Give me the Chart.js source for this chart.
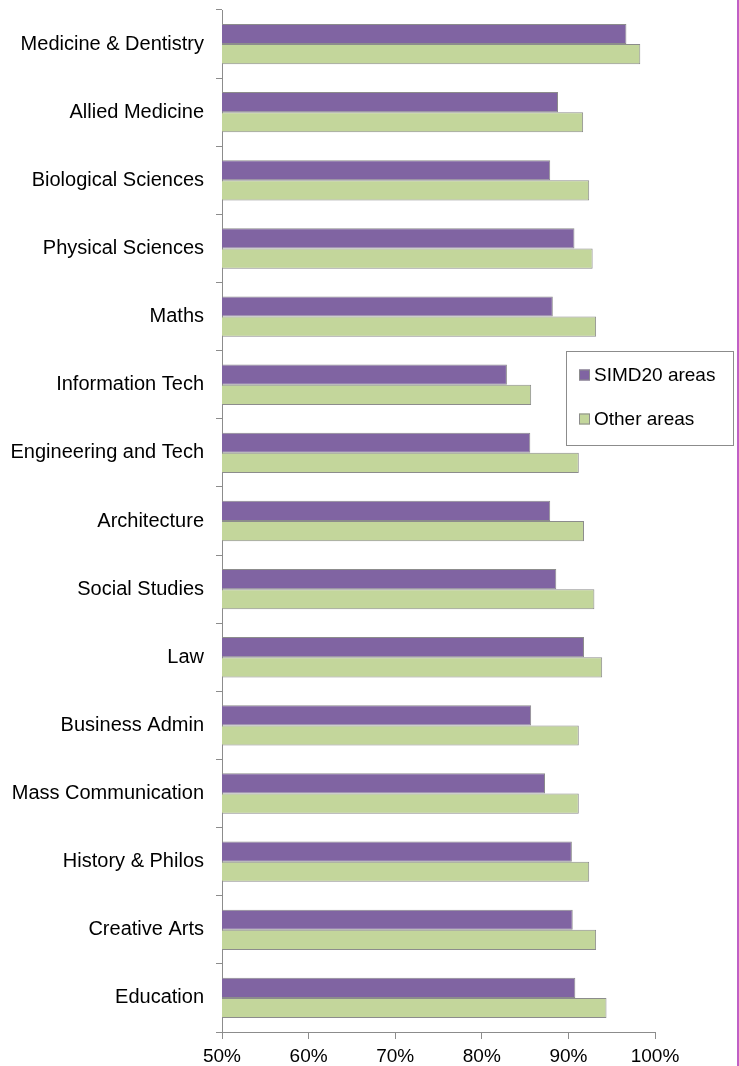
<!DOCTYPE html>
<html>
<head>
<meta charset="utf-8">
<script src="https://cdn.jsdelivr.net/npm/chart.js@4.4.1/dist/chart.umd.min.js"></script>
<style>
  html, body { margin: 0; padding: 0; background: #fff; }
  #wrap { width: 737px; height: 1066px; border-right: 2px solid #c060c6; }
  canvas { display: block; }
</style>
</head>
<body>
<div id="wrap"><canvas id="grafico" width="737" height="1066"></canvas></div>
<script>
// subjects, top to bottom
var subjects = ['Medicine & Dentistry', 'Allied Medicine', 'Biological Sciences', 'Physical Sciences',
  'Maths', 'Information Tech', 'Engineering and Tech', 'Architecture', 'Social Studies', 'Law',
  'Business Admin', 'Mass Communication', 'History & Philos', 'Creative Arts', 'Education'];
var simd20 = [96.7, 88.8, 87.9, 90.7, 88.2, 82.9, 85.6, 87.9, 88.6, 91.8, 85.7, 87.3, 90.4, 90.5, 90.8];
var outras = [98.3, 91.7, 92.4, 92.8, 93.2, 85.7, 91.2, 91.8, 93.0, 93.9, 91.2, 91.2, 92.4, 93.2, 94.4];
var xTicks = [50, 60, 70, 80, 90, 100];

var cinza = '#8c8c8c';
var fonte = 'Arial, "Liberation Sans", sans-serif';

// legend box sitting over the plot, like the spreadsheet one
var caixaLegenda = {
  id: 'caixaLegenda',
  afterDraw: function(chart) {
    var ctx = chart.ctx;
    ctx.save();
    ctx.fillStyle = '#fff';
    ctx.fillRect(566, 351, 168, 95);
    ctx.strokeStyle = cinza;
    ctx.lineWidth = 1;
    ctx.strokeRect(566.5, 351.5, 167, 94);
    ctx.font = '19px ' + fonte;
    ctx.textBaseline = 'middle';
    chart.data.datasets.forEach(function(ds, i) {
      var y = 375 + i * 44;
      ctx.fillStyle = ds.backgroundColor;
      ctx.fillRect(579, y - 5.5, 11, 11);
      ctx.strokeStyle = cinza;
      ctx.strokeRect(579.5, y - 5, 10, 10);
      ctx.fillStyle = '#000';
      ctx.fillText(ds.label, 594, y + 1);
    });
    ctx.restore();
  }
};

let grafico = document.getElementById('grafico').getContext('2d');
let chart = new Chart(grafico, {
  type: 'bar',
  data: {
    labels: subjects,
    datasets: [{
      label: 'SIMD20 areas',
      data: simd20,
      backgroundColor: '#8064a2',
      borderColor: cinza,
      borderWidth: 1
    }, {
      label: 'Other areas',
      data: outras,
      backgroundColor: '#c3d69b',
      borderColor: cinza,
      borderWidth: 1
    }]
  },
  options: {
    indexAxis: 'y',
    responsive: false,
    animation: false,
    devicePixelRatio: 1,
    categoryPercentage: 0.592,
    barPercentage: 1,
    layout: { padding: { top: 10, right: 82, left: 0, bottom: 0 } },
    scales: {
      x: {
        min: 50,
        max: 100,
        afterBuildTicks: function(scale) {
          scale.ticks = xTicks.map(function(v) { return { value: v }; });
        },
        afterFit: function(scale) { scale.height = 34; },
        border: { color: cinza, width: 1 },
        grid: { drawOnChartArea: false, color: cinza, tickLength: 7 },
        ticks: {
          color: '#000',
          padding: 6,
          font: { family: fonte, size: 19 },
          callback: function(v) { return v + '%'; }
        }
      },
      y: {
        // fixed width and no extra room for half labels at the ends
        afterFit: function(scale) {
          scale.width = 222;
          scale.paddingTop = 0;
          scale.paddingBottom = 0;
        },
        border: { color: cinza, width: 1 },
        grid: { drawOnChartArea: false, color: cinza, tickLength: 6, offset: true },
        ticks: {
          color: '#000',
          padding: 12,
          font: { family: fonte, size: 20 }
        }
      }
    },
    plugins: {
      legend: { display: false },
      tooltip: { enabled: false }
    }
  },
  plugins: [caixaLegenda]
});
</script>
</body>
</html>
